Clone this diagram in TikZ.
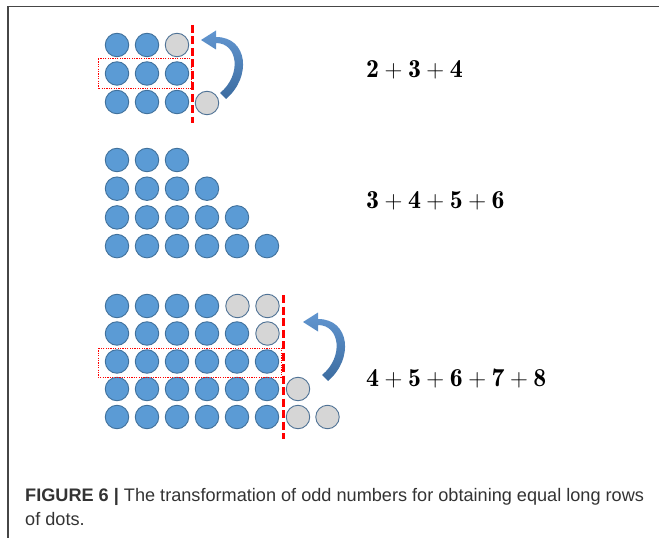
\documentclass[tikz,border=0pt]{standalone}
\usepackage{fontspec}
\newfontfamily\capfont{Liberation Sans}
\usetikzlibrary{arrows.meta}
\definecolor{dotblue}{RGB}{91,155,213}
\definecolor{dotedge}{RGB}{65,113,156}
\definecolor{dotgray}{RGB}{214,214,214}
\definecolor{grayedge}{RGB}{80,115,150}
\definecolor{arrtop}{RGB}{98,150,208}
\definecolor{arrbot}{RGB}{60,108,160}
\definecolor{capgray}{RGB}{51,51,51}
\definecolor{framegray}{RGB}{70,70,70}
\tikzset{
  bdot/.style={circle,draw=dotedge,fill=dotblue,line width=0.9bp,minimum size=23.5bp,inner sep=0pt},
  gdot/.style={circle,draw=grayedge,fill=dotgray,line width=0.9bp,minimum size=23.5bp,inner sep=0pt},
  redcut/.style={draw=red,line width=3bp,dash pattern=on 8bp off 3.5bp},
  rowbox/.style={draw=red,line width=1bp,dash pattern=on 1.2bp off 1.2bp},
  bentarrow/.style={top color=arrtop,bottom color=arrbot,draw=none},
  sumtext/.style={anchor=base west,inner sep=0pt,font=\fontsize{26}{30}\selectfont},
  captext/.style={anchor=base west,inner sep=0pt,text=capgray,font=\capfont\fontsize{18.2}{24}\selectfont}
}
\newcommand{\curvedarrowshape}{%
  (220,93) .. controls (242,75) and (238,43) .. (216,43) -- (216,49.5) -- (201,40) -- (216,30.5) -- (216,37)
  .. controls (248,37) and (252,77) .. (226,99) -- cycle}
\begin{document}
\begin{tikzpicture}[x=1bp,y=-1bp]
\useasboundingbox (0,0) rectangle (659,538);
% frame
\draw[framegray,line width=1.5bp] (8,538) -- (8,6.5) -- (659,6.5);

% ---------- top figure ----------
\foreach \c in {1,2} \node[bdot] (t1\c) at ({117+30*(\c-1)},45) {};
\node[gdot] (t13) at (177,45) {};
\foreach \c in {1,2,3} \node[bdot] (t2\c) at ({117+30*(\c-1)},73.5) {};
\foreach \c in {1,2,3} \node[bdot] (t3\c) at ({117+30*(\c-1)},102) {};
\node[gdot] (t34) at (207,103) {};
\coordinate (tcutA) at (192,25);
\coordinate (tcutB) at (192,123);
\draw[redcut] (tcutA) -- (tcutB);
\coordinate (tboxA) at (98,59);
\coordinate (tboxB) at (191,89);
\draw[rowbox] (tboxA) rectangle (tboxB);
\path[bentarrow] \curvedarrowshape;
\node[sumtext] (tsum) at (366,78) {$\mathbf{2}+\mathbf{3}+\mathbf{4}$};

% ---------- middle figure ----------
\foreach \r in {1,2,3,4}{
  \pgfmathtruncatemacro{\n}{\r+2}
  \foreach \c in {1,...,\n}
    \node[bdot] (m\r\c) at ({117+30*(\c-1)},{160+28.7*(\r-1)}) {};
}
\node[sumtext] (msum) at (366,209) {$\mathbf{3}+\mathbf{4}+\mathbf{5}+\mathbf{6}$};

% ---------- bottom figure ----------
\foreach \c in {1,...,4} \node[bdot] (b1\c) at ({117+30*(\c-1)},306) {};
\node[gdot] (b15) at (237.5,306) {};
\node[gdot] (b16) at (267.5,306) {};
\foreach \c in {1,...,5} \node[bdot] (b2\c) at ({117+30*(\c-1)},333.5) {};
\node[gdot] (b26) at (267.5,333.5) {};
\foreach \c in {1,...,6} \node[bdot] (b3\c) at ({117+30*(\c-1)},361.5) {};
\foreach \c in {1,...,6} \node[bdot] (b4\c) at ({117+30*(\c-1)},389) {};
\node[gdot] (b47) at (298,389) {};
\foreach \c in {1,...,6} \node[bdot] (b5\c) at ({117+30*(\c-1)},417) {};
\node[gdot] (b57) at (298,417) {};
\node[gdot] (b58) at (327.5,417) {};
\coordinate (bcutA) at (283,295);
\coordinate (bcutB) at (283,439);
\draw[redcut] (bcutA) -- (bcutB);
\coordinate (bboxA) at (98,348);
\coordinate (bboxB) at (281,377);
\draw[rowbox] (bboxA) rectangle (bboxB);
\begin{scope}[shift={(102,282)}]
  \path[bentarrow] \curvedarrowshape;
\end{scope}
\node[sumtext] (bsum) at (366,386) {$\mathbf{4}+\mathbf{5}+\mathbf{6}+\mathbf{7}+\mathbf{8}$};

% ---------- caption ----------
\node[captext] (cap1) at (25,501) {\textbf{FIGURE 6 |} The transformation of odd numbers for obtaining equal long rows};
\node[captext] (cap2) at (25,525) {of dots.};
\end{tikzpicture}
\end{document}
